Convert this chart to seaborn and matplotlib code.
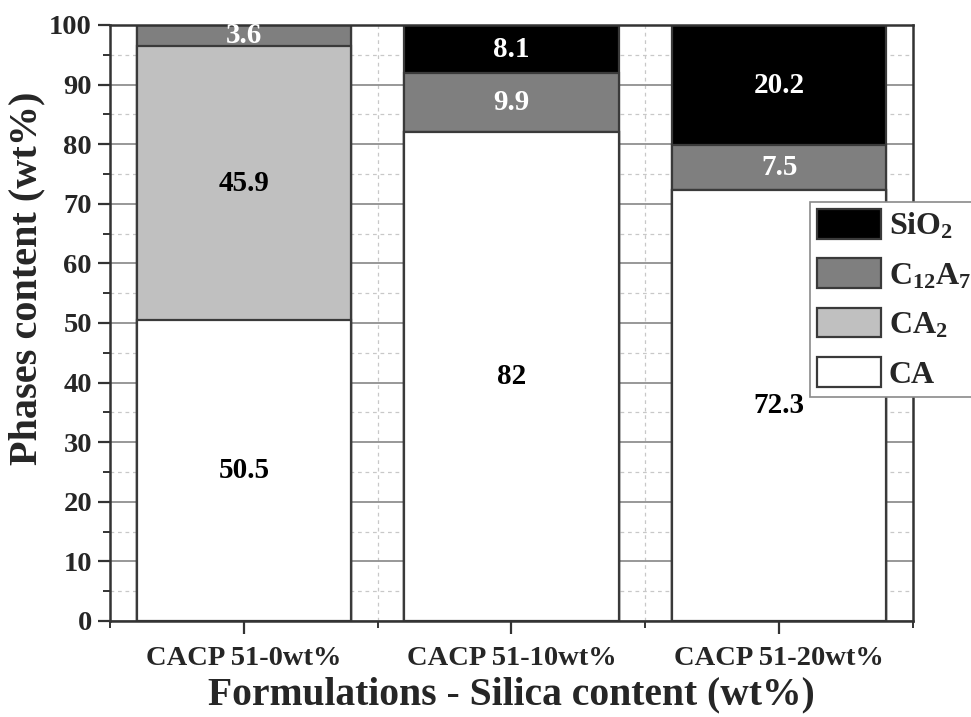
import matplotlib
matplotlib.use("Agg")
import matplotlib.pyplot as plt
from matplotlib.patches import Patch
from matplotlib.ticker import MultipleLocator, FixedLocator
import numpy as np
import pandas as pd
import seaborn as sns

# Phase composition of each formulation (wt%)
formulations = ["CACP 51-0wt%", "CACP 51-10wt%", "CACP 51-20wt%"]
ca = [50.5, 82.0, 72.3]
ca2 = [45.9, 0.0, 0.0]
c12a7 = [3.6, 9.9, 7.5]
sio2 = [0.0, 8.1, 20.2]

phase_names = ["CA", "CA$_2$", "C$_{12}$A$_7$", "SiO$_2$"]
phase_values = [ca, ca2, c12a7, sio2]
phase_colors = ["#ffffff", "#c0c0c0", "#7f7f7f", "#000000"]
label_colors = ["black", "black", "white", "white"]

sns.set_theme(style="white")
plt.rcParams["font.family"] = ["Liberation Serif", "DejaVu Serif"]
plt.rcParams["font.weight"] = "bold"
plt.rcParams["mathtext.fontset"] = "custom"
plt.rcParams["mathtext.rm"] = "Liberation Serif:bold"
plt.rcParams["mathtext.it"] = "Liberation Serif:bold"
plt.rcParams["mathtext.bf"] = "Liberation Serif:bold"
plt.rcParams["mathtext.default"] = "rm"

df = pd.DataFrame({"formulation": formulations})
tops = np.cumsum(np.array(phase_values), axis=0)

fig = plt.figure(figsize=(9.71, 7.17), dpi=100)
ax = fig.add_axes([110 / 971, 1 - 621 / 717, 803 / 971, 596 / 717])

# Stacked bars: draw cumulative totals from the top layer down
edge = "#3a3a3a"
for i in range(len(phase_names) - 1, -1, -1):
    df["top"] = tops[i]
    sns.barplot(data=df, x="formulation", y="top", color=phase_colors[i],
                saturation=1, width=0.8, edgecolor=edge, linewidth=1.6,
                ax=ax, zorder=2)

# Segment value labels
for j in range(len(formulations)):
    bottom = 0.0
    for i, vals in enumerate(phase_values):
        v = vals[j]
        if v > 0:
            ax.text(j, bottom + v / 2, f"{v:g}", ha="center", va="center",
                    fontsize=21, fontweight="bold", color=label_colors[i],
                    zorder=5)
        bottom += v

ax.set_xlim(-0.5, 2.5)
ax.set_ylim(0, 100)
ax.yaxis.set_major_locator(MultipleLocator(10))
ax.yaxis.set_minor_locator(MultipleLocator(5))
ax.xaxis.set_minor_locator(FixedLocator([-0.5, 0.5, 1.5, 2.5]))

ax.set_axisbelow(True)
ax.grid(which="major", axis="y", color="#909090", linewidth=1.3, linestyle="-")
ax.grid(which="minor", axis="y", color="#c8c8c8", linewidth=0.9, linestyle=(0, (3, 3)))
ax.grid(which="minor", axis="x", color="#c8c8c8", linewidth=0.9, linestyle=(0, (3, 3)))

for s in ax.spines.values():
    s.set_color("#333333")
    s.set_linewidth(1.8)
    s.set_visible(True)

ax.tick_params(axis="both", which="major", direction="out", length=9, width=1.6,
               color="#333333", labelsize=20.5, left=True, bottom=True)
ax.tick_params(axis="x", which="major", pad=9)
ax.tick_params(axis="y", which="major", pad=4)
ax.tick_params(axis="both", which="minor", direction="out", length=5, width=1.4,
               color="#333333", left=True, bottom=True)
for lab in ax.get_xticklabels() + ax.get_yticklabels():
    lab.set_fontweight("bold")

ax.set_xlabel("Formulations - Silica content (wt%)", fontsize=28.5, fontweight="bold", labelpad=4)
ax.set_ylabel("Phases content (wt%)", fontsize=29, fontweight="bold")
ax.yaxis.set_label_coords(-0.08, 0.575)

handles = [Patch(facecolor=phase_colors[i], edgecolor=edge, linewidth=1.6)
           for i in range(len(phase_names) - 1, -1, -1)]
labels = [phase_names[i] for i in range(len(phase_names) - 1, -1, -1)]
leg = ax.legend(handles, labels, loc="upper left", bbox_to_anchor=(810 / 971, 1 - 202 / 717),
                bbox_transform=fig.transFigure, fontsize=23, frameon=True, fancybox=False,
                edgecolor="#8a8a8a", framealpha=1, handlelength=2.0, handleheight=1.05,
                handletextpad=0.25, labelspacing=0.52, borderpad=0.22, borderaxespad=0)
leg.get_frame().set_linewidth(1.2)
leg.set_zorder(10)

fig.savefig("out.png", dpi=100)
